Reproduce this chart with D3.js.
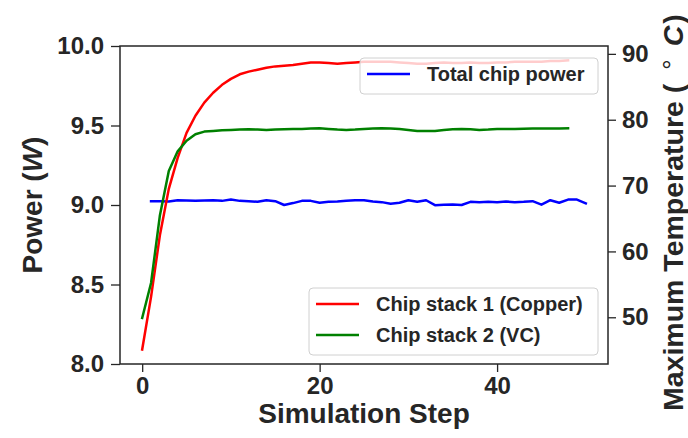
<!DOCTYPE html>
<html>
<head>
<meta charset="utf-8">
<script src="https://cdn.jsdelivr.net/npm/d3@7"></script>
<style>
  html, body { margin: 0; padding: 0; background: #fff; }
  svg { display: block; }
  text { font-family: "Liberation Sans", Arial, sans-serif; font-weight: bold; fill: #262626; }
</style>
</head>
<body>
<svg id="chart" width="688" height="438"></svg>
<script>
// Simulation steps for each series
const tempSteps = d3.range(0, 49);   // 0..48
const powerSteps = d3.range(1, 51);  // 1..50

// Maximum temperature (°C) per step, chip stack 1 (copper)
const copperTemp = [45.1, 53.1, 62.5, 69.5, 74.2, 78.0, 80.6, 82.6, 84.1, 85.3,
  86.2, 86.9, 87.3, 87.6, 87.9, 88.1, 88.2, 88.3, 88.5, 88.7,
  88.7, 88.6, 88.5, 88.6, 88.7, 88.8, 88.8, 88.8, 88.8, 88.7,
  88.6, 88.5, 88.5, 88.6, 88.7, 88.6, 88.6, 88.7, 88.6, 88.6,
  88.7, 88.7, 88.8, 88.8, 88.8, 88.8, 88.9, 88.9, 89.0];

// Maximum temperature (°C) per step, chip stack 2 (vapour chamber)
const vcTemp = [49.9, 55.2, 65.5, 72.2, 75.2, 76.8, 77.8, 78.2, 78.3, 78.4,
  78.45, 78.5, 78.55, 78.5, 78.45, 78.5, 78.55, 78.6, 78.6, 78.65,
  78.7, 78.6, 78.5, 78.45, 78.5, 78.6, 78.65, 78.7, 78.65, 78.6,
  78.45, 78.3, 78.3, 78.3, 78.45, 78.55, 78.6, 78.55, 78.45, 78.5,
  78.6, 78.6, 78.6, 78.62, 78.65, 78.65, 78.65, 78.68, 78.7];

// Total chip power (W) per step
const totalPower = [9.024, 9.024, 9.022, 9.030, 9.028, 9.026, 9.028, 9.030, 9.026, 9.034,
  9.026, 9.024, 9.020, 9.030, 9.024, 9.000, 9.012, 9.026, 9.026, 9.014,
  9.020, 9.022, 9.026, 9.030, 9.030, 9.022, 9.018, 9.008, 9.014, 9.030,
  9.020, 9.030, 8.999, 9.002, 9.003, 9.000, 9.020, 9.018, 9.020, 9.018,
  9.022, 9.018, 9.020, 9.024, 9.002, 9.030, 9.014, 9.034, 9.034, 9.010];

const xTicks = [0, 20, 40];
const powerTicks = [8.0, 8.5, 9.0, 9.5, 10.0];
const tempTicks = [50, 60, 70, 80, 90];
const powerLimits = [8.0, 10.0];

const svg = d3.select("#chart");
const plot = { left: 120, right: 608, top: 46, bottom: 364 };

// auto-range with 5% padding on both ends
function padded(ext) {
  const pad = (ext[1] - ext[0]) * 0.05;
  return [ext[0] - pad, ext[1] + pad];
}

const x = d3.scaleLinear()
  .domain(padded([0, 50]))
  .range([plot.left, plot.right]);
const yPower = d3.scaleLinear()
  .domain(powerLimits)
  .range([plot.bottom, plot.top]);
const yTemp = d3.scaleLinear()
  .domain(padded(d3.extent(copperTemp.concat(vcTemp))))
  .range([plot.bottom, plot.top]);

// data lines
const g = svg.append("g");
function drawLine(steps, vals, yScale, color) {
  const line = d3.line().x((d, i) => x(steps[i])).y(d => yScale(d));
  g.append("path")
    .datum(vals)
    .attr("d", line)
    .attr("fill", "none")
    .attr("stroke", color)
    .attr("stroke-width", 2.5)
    .attr("stroke-linejoin", "round")
    .attr("stroke-linecap", "square");
}
drawLine(powerSteps, totalPower, yPower, "#0000ff");
drawLine(tempSteps, copperTemp, yTemp, "#ff0000");
drawLine(tempSteps, vcTemp, yTemp, "#008000");

// axes
function styleAxis(sel) {
  sel.select(".domain").remove();
  sel.selectAll(".tick line").attr("stroke", "#262626").attr("stroke-width", 1.3);
  sel.selectAll(".tick text").style("font-size", "24px").attr("fill", "#262626");
}
svg.append("g")
  .attr("transform", `translate(0,${plot.bottom})`)
  .call(d3.axisBottom(x).tickValues(xTicks).tickSize(8).tickPadding(5).tickFormat(d3.format("d")))
  .call(styleAxis);
svg.append("g")
  .attr("transform", `translate(${plot.left},0)`)
  .call(d3.axisLeft(yPower).tickValues(powerTicks).tickSize(9).tickPadding(7).tickFormat(d3.format(".1f")))
  .call(styleAxis);
svg.append("g")
  .attr("transform", `translate(${plot.right},0)`)
  .call(d3.axisRight(yTemp).tickValues(tempTicks).tickSize(8).tickPadding(6).tickFormat(d3.format("d")))
  .call(styleAxis);

// frame
svg.append("rect")
  .attr("x", plot.left).attr("y", plot.top)
  .attr("width", plot.right - plot.left).attr("height", plot.bottom - plot.top)
  .attr("fill", "none").attr("stroke", "#262626").attr("stroke-width", 1.5);

// axis titles
svg.append("text")
  .attr("x", (plot.left + plot.right) / 2).attr("y", 423)
  .attr("text-anchor", "middle").style("font-size", "28px")
  .text("Simulation Step");

const yl = svg.append("text")
  .attr("transform", `translate(42,${(plot.top + plot.bottom) / 2}) rotate(-90)`)
  .attr("text-anchor", "middle").style("font-size", "28px");
yl.append("tspan").text("Power (");
yl.append("tspan").style("font-style", "italic").text("W");
yl.append("tspan").text(")");

const yr = svg.append("text")
  .attr("transform", "translate(683,411) rotate(-90)")
  .attr("text-anchor", "start").style("font-size", "28.5px");
yr.append("tspan").text("Maximum Temperature (");
yr.append("tspan").attr("dx", 14).attr("dy", -2).style("font-weight", "normal").style("font-size", "26px").text("°");
yr.append("tspan").attr("dx", 13).attr("dy", 2).style("font-style", "italic").text("C");
yr.append("tspan").attr("dx", 2).text(")");

// legends
function legend(x0, y0, w, entries) {
  const rowH = 31;
  const h = 12 + entries.length * rowH - 7;
  const lg = svg.append("g").attr("transform", `translate(${x0},${y0})`);
  lg.append("rect")
    .attr("width", w).attr("height", h).attr("rx", 4).attr("ry", 4)
    .attr("fill", "#fff").attr("fill-opacity", 0.8)
    .attr("stroke", "#d0d0d0").attr("stroke-width", 1);
  entries.forEach((e, i) => {
    const cy = 16 + i * rowH;
    lg.append("line")
      .attr("x1", 7).attr("x2", 50).attr("y1", cy).attr("y2", cy)
      .attr("stroke", e.color).attr("stroke-width", 2.5);
    lg.append("text")
      .attr("x", 67).attr("y", cy + 7)
      .style("font-size", "20px")
      .text(e.label);
  });
}
legend(360, 58, 238, [{ label: "Total chip power", color: "#0000ff" }]);
legend(309, 288, 289, [
  { label: "Chip stack 1 (Copper)", color: "#ff0000" },
  { label: "Chip stack 2 (VC)", color: "#008000" }
]);
</script>
</body>
</html>
